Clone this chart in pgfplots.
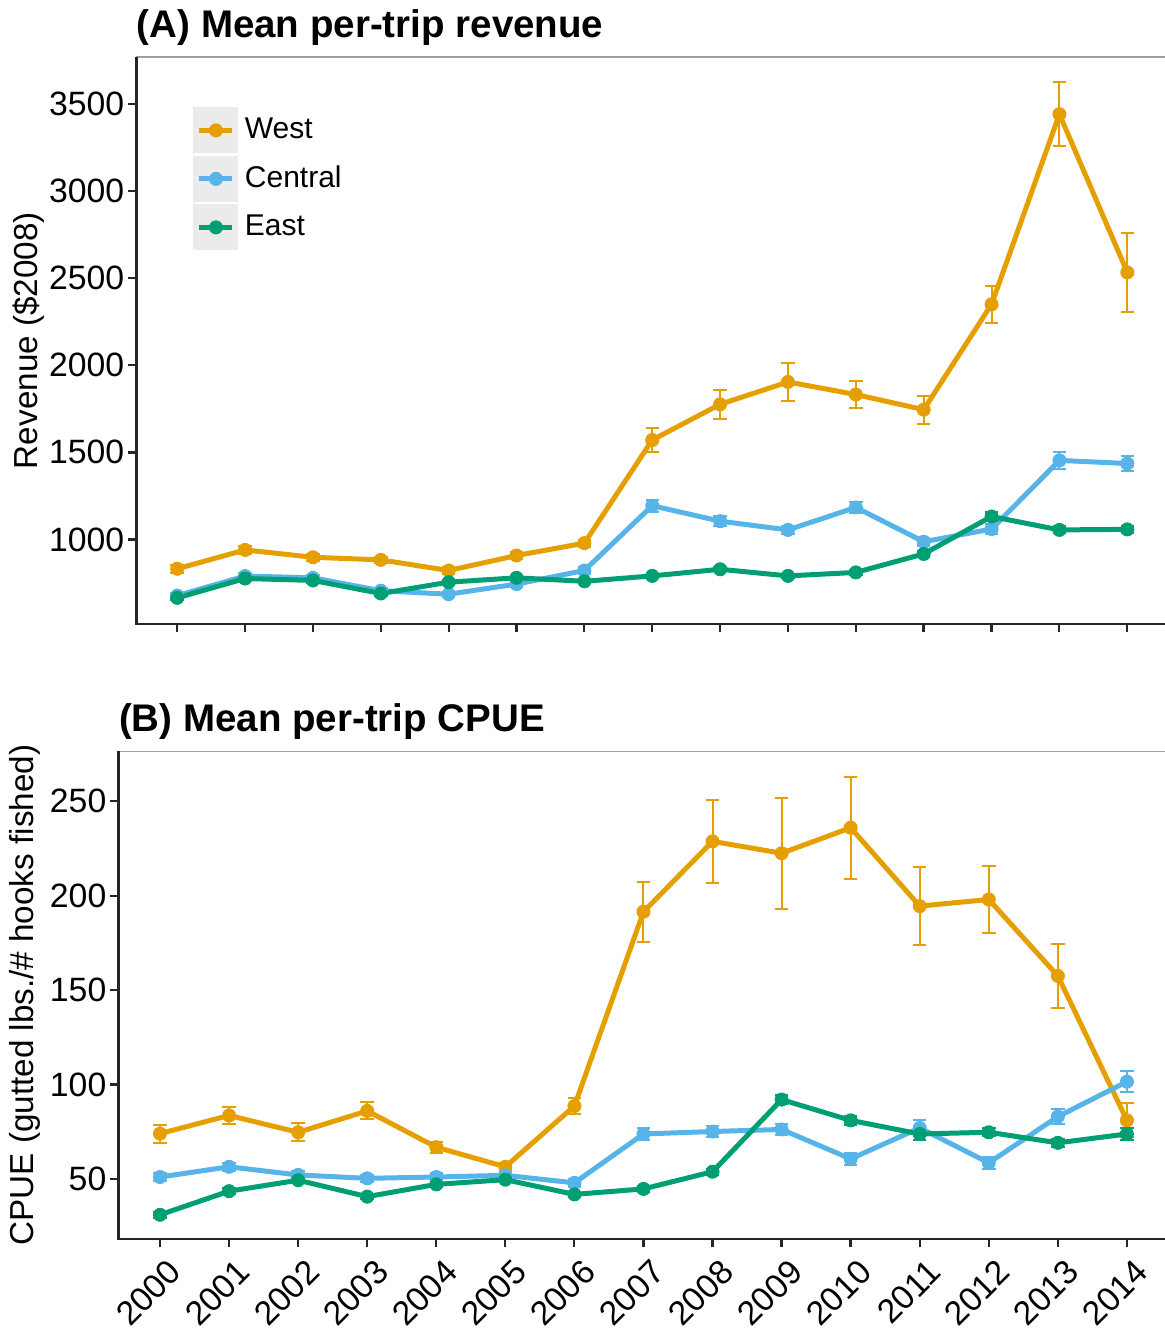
\documentclass[border=0pt]{standalone}
\usepackage{pgfplots}
\usepackage{pgfplotstable}
\pgfplotsset{compat=1.18}
\usepackage{fontspec}
\setmainfont{Liberation Sans}
\definecolor{cwest}{HTML}{E69F00}
\definecolor{ccent}{HTML}{56B4E9}
\definecolor{ceast}{HTML}{009E73}
\definecolor{keybg}{HTML}{EBEBEB}

\pgfplotstableread{
year v e
2000 832 22
2001 940 22
2002 898 20
2003 883 18
2004 822 18
2005 908 20
2006 979 20
2007 1571 67
2008 1776 84
2009 1904 110
2010 1832 80
2011 1745 80
2012 2350 105
2013 3441 184
2014 2533 229
}\aWest
\pgfplotstableread{
year v e
2000 678 15
2001 790 18
2002 780 18
2003 706 15
2004 686 15
2005 744 15
2006 822 18
2007 1194 35
2008 1105 28
2009 1055 22
2010 1184 30
2011 987 22
2012 1060 30
2013 1454 50
2014 1436 45
}\aCent
\pgfplotstableread{
year v e
2000 665 12
2001 776 12
2002 765 12
2003 690 12
2004 755 12
2005 780 12
2006 760 12
2007 791 12
2008 829 12
2009 791 12
2010 811 12
2011 917 15
2012 1132 25
2013 1055 20
2014 1058 20
}\aEast
\pgfplotstableread{
year v e
2000 74.0 4.8
2001 83.6 4.5
2002 74.7 4.8
2003 86.0 4.5
2004 66.8 3.0
2005 56.4 2.0
2006 88.6 4.0
2007 191.5 16
2008 228.8 22
2009 222.5 29.5
2010 236.0 27
2011 194.5 20.5
2012 198.0 17.5
2013 157.5 17
2014 81.0 9
}\bWest
\pgfplotstableread{
year v e
2000 51.0 2
2001 56.4 2
2002 52.1 2
2003 50.3 2
2004 51.0 2
2005 51.9 2
2006 47.9 2
2007 73.8 3
2008 75.1 3
2009 76.2 3
2010 60.6 3
2011 77.0 4
2012 58.5 3
2013 83.0 4
2014 101.5 5.4
}\bCent
\pgfplotstableread{
year v e
2000 31.0 1.5
2001 43.5 1.5
2002 49.3 1.5
2003 40.6 1.5
2004 47.1 1.5
2005 49.6 1.5
2006 41.8 1.5
2007 44.7 1.5
2008 53.8 1.5
2009 92.0 2.2
2010 81.0 2.5
2011 73.8 3
2012 74.7 2
2013 69.1 2
2014 73.8 3
}\bEast

\pgfplotsset{
  panel/.style={
    scale only axis,
    xmin=1999.4, xmax=2014.6,
    xtick={2000,...,2014},
    tick align=outside,
    tick pos=left,
    major tick length=3.4pt,
    tick style={black!85, line width=0.9pt},
    axis line style={draw=gray!75, line width=0.6pt},
    /pgf/number format/1000 sep={},
    /pgf/number format/assume math mode=true,
    tick label style={font=\fontsize{13.5}{16}\selectfont, black},
    yticklabel style={xshift=2pt},
    label style={font=\fontsize{13.3}{16}\selectfont},
    every axis title shift=0pt,
    title style={font=\fontsize{15.4}{18}\selectfont\bfseries, at={(axis description cs:0,1)}, anchor=base west, inner sep=0pt, yshift=7.8pt},
    every axis plot/.append style={line width=2pt, mark=*, mark size=2.6pt, mark options={solid, line width=0.4pt}},
    error bars/y dir=both,
    error bars/y explicit,
    error bars/error bar style={line width=0.8pt},
    error bars/error mark options={rotate=90, mark size=2.7pt, line width=0.8pt},
    after end axis/.code={\draw[black!85, line width=0.9pt] (rel axis cs:0,1) -- (rel axis cs:0,0) -- (rel axis cs:1,0);},
  }
}

\begin{document}
\begin{tikzpicture}
\useasboundingbox (0,0) rectangle (465.6pt,532.4pt);

% Panel A
\begin{axis}[panel,
  at={(54.6pt,282.8pt)}, anchor=south west,
  width=412.6pt, height=226.7pt,
  ymin=515, ymax=3768,
  ytick={1000,1500,...,3500},
  xticklabels={},
  ylabel={Revenue (\$2008)},
  ylabel style={at={(axis description cs:-0.1045,0.5)}, anchor=center},
  title={(A) Mean per-trip revenue},
  legend image code/.code={
    \fill[keybg] (0pt,-8.2pt) rectangle (16pt,8.2pt);
    \draw[mark repeat=2,mark phase=2,#1] plot coordinates {(1.4pt,0pt) (8pt,0pt) (14.6pt,0pt)};
  },
  legend style={at={(axis description cs:0.0552,0.9115)}, anchor=north west,
    draw=none, fill=none, inner sep=0pt, outer sep=0pt,
    row sep=1.0pt, column sep=2.6pt,
    nodes={inner sep=0pt},
    font=\fontsize{12}{14}\selectfont},
  legend cell align=left,
]
\addplot[cwest] table[x=year, y=v, y error=e] {\aWest};
\addlegendentry{West}
\addplot[ccent] table[x=year, y=v, y error=e] {\aCent};
\addlegendentry{Central}
\addplot[ceast] table[x=year, y=v, y error=e] {\aEast};
\addlegendentry{East}
\end{axis}

% Panel B
\begin{axis}[panel,
  at={(47.44pt,36.9pt)}, anchor=south west,
  width=419.9pt, height=194.9pt,
  ymin=18.3, ymax=276.4,
  ytick={50,100,...,250},
  xticklabel style={xshift=2.6pt, yshift=-2.6pt, rotate=45, anchor=north east, inner sep=1pt},
  ylabel={CPUE (gutted lbs./\# hooks fished)},
  ylabel style={at={(axis description cs:-0.0892,0.5)}, anchor=center},
  title={(B) Mean per-trip CPUE},
]
\addplot[cwest] table[x=year, y=v, y error=e] {\bWest};
\addplot[ccent] table[x=year, y=v, y error=e] {\bCent};
\addplot[ceast] table[x=year, y=v, y error=e] {\bEast};
\end{axis}
\end{tikzpicture}
\end{document}
